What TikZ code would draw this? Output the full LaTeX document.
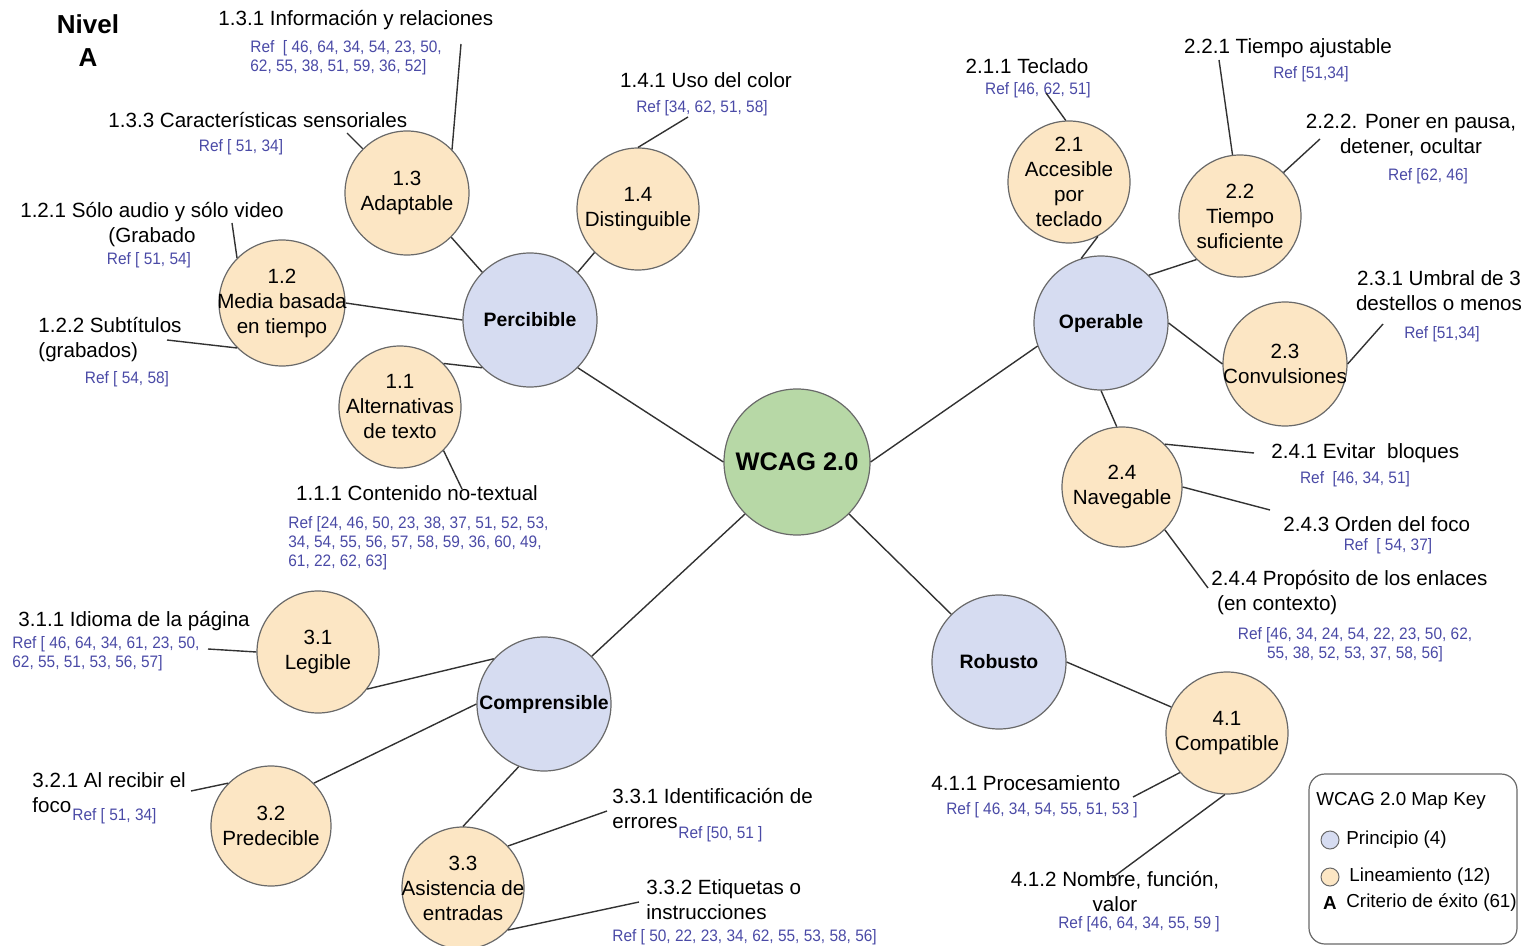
\documentclass[tikz,border=0pt]{standalone}
\usepackage{fontspec}
\setmainfont{Liberation Sans}
\newfontfamily\reffamily[FakeStretch=0.93]{Liberation Sans}
\definecolor{princfill}{RGB}{214,220,241}
\definecolor{guidefill}{RGB}{252,230,196}
\definecolor{rootfill}{RGB}{183,216,166}
\definecolor{edgec}{RGB}{105,105,105}
\definecolor{linec}{RGB}{50,50,50}
\definecolor{refblue}{RGB}{74,74,166}
\newcommand\critfont{\fontsize{10.3}{12.5}\selectfont}
\newcommand\refsfont{\reffamily\fontsize{8.3}{9.5}\selectfont}
\newcommand\keyfont{\fontsize{9.4}{11}\selectfont}
\begin{document}
\begin{tikzpicture}[x=0.5pt,y=-0.5pt,
  root/.style={circle,draw=edgec,fill=rootfill,line width=0.6pt,minimum size=73pt,inner sep=0pt},
  princ/.style={circle,draw=edgec,fill=princfill,line width=0.6pt,minimum size=67pt,inner sep=0pt},
  guide/.style={circle,draw=edgec,fill=guidefill,line width=0.6pt,minimum size=61pt,inner sep=0pt},
  ctext/.style={font=\critfont,align=center,inner sep=0pt},
  ptext/.style={font=\fontsize{9.7}{11}\selectfont\bfseries,inner sep=0pt},
  crit/.style={font=\critfont,inner sep=0pt},
  refs/.style={font=\refsfont,text=refblue,inner sep=0pt},
  link/.style={draw=linec,line width=0.7pt},
  keytext/.style={font=\keyfont,inner sep=0pt,anchor=west},
  keydot/.style={circle,draw=edgec,line width=0.5pt,minimum size=9pt,inner sep=0pt}
]
\useasboundingbox (0,0) rectangle (1530,946);

% level heading
\node[font=\fontsize{13}{16.5}\selectfont\bfseries,align=center,inner sep=0pt] (nivel) at (88,41) {Nivel\\A};

% centre and principles
\node[root,label={[font=\fontsize{12.7}{14}\selectfont\bfseries]center:WCAG 2.0}] (wcag) at (797,462) {};
\node[princ,label={[ptext]center:Percibible}] (perc) at (530,320) {};
\node[princ,label={[ptext]center:Operable}] (oper) at (1101,323) {};
\node[princ,label={[ptext]center:Comprensible}] (comp) at (544,704) {};
\node[princ,label={[ptext]center:Robusto}] (robu) at (999,662) {};

% guidelines
\node[guide,minimum size=62pt,label={[ctext]center:{1.3\\Adaptable}}] (g13) at (407,193) {};
\node[guide,label={[ctext]center:{1.4\\Distinguible}}] (g14) at (638,209) {};
\node[guide,minimum size=63pt,label={[ctext]center:{1.2\\Media basada\\en tiempo}}] (g12) at (282,303) {};
\node[guide,label={[ctext]center:{1.1\\Alternativas\\de texto}}] (g11) at (400,407) {};
\node[guide,label={[ctext]center:{2.1\\Accesible\\por\\teclado}}] (g21) at (1069,182) {};
\node[guide,label={[ctext]center:{2.2\\Tiempo\\suficiente}}] (g22) at (1240,216) {};
\node[guide,minimum size=62pt,label={[ctext]center:{2.3\\Convulsiones}}] (g23) at (1285,364) {};
\node[guide,minimum size=60pt,label={[ctext]center:{2.4\\Navegable}}] (g24) at (1122,487) {};
\node[guide,label={[ctext]center:{3.1\\Legible}}] (g31) at (318,652) {};
\node[guide,minimum size=60pt,label={[ctext]center:{3.2\\Predecible}}] (g32) at (271,826) {};
\node[guide,label={[ctext]center:{3.3\\Asistencia de\\entradas}}] (g33) at (463,888) {};
\node[guide,label={[ctext]center:{4.1\\Compatible}}] (g41) at (1227,733) {};

% success criteria and their references
\node[crit,anchor=west] (c131) at (218,20) {1.3.1 Información y relaciones};
\node[refs,anchor=west,align=left] (r131) at (250,57.5) {Ref\ \ [ 46, 64, 34, 54, 23, 50,\\62, 55, 38, 51, 59, 36, 52]};
\node[crit,anchor=west] (c133) at (108,120) {1.3.3 Características sensoriales};
\node[refs] (r133) at (241,147) {Ref [ 51, 34]};
\node[crit,align=center] (c121) at (152,224.5) {1.2.1 Sólo audio y sólo video\\(Grabado};
\node[refs] (r121) at (149,260) {Ref [ 51, 54]};
\node[crit,anchor=west,align=left] (c122) at (38,339.5) {1.2.2 Subtítulos\\(grabados)};
\node[refs] (r122) at (127,379) {Ref [ 54, 58]};
\node[crit] (c111) at (417,493) {1.1.1 Contenido no-textual};
\node[refs,anchor=west,align=left] (r111) at (288,543) {Ref [24, 46, 50, 23, 38, 37, 51, 52, 53,\\34, 54, 55, 56, 57, 58, 59, 36, 60, 49,\\61, 22, 62, 63]};
\node[crit] (c141) at (706,80) {1.4.1 Uso del color};
\node[refs] (r141) at (702,108) {Ref [34, 62, 51, 58]};

\node[crit] (c211) at (1027,66) {2.1.1 Teclado};
\node[refs] (r211) at (1038,90) {Ref [46, 62, 51]};
\node[crit] (c221) at (1288,48) {2.2.1 Tiempo ajustable};
\node[refs] (r221) at (1311,74) {Ref [51,34]};
\node[crit,align=center] (c222) at (1411,135) {2.2.2. Poner en pausa,\\detener, ocultar};
\node[refs] (r222) at (1428,176) {Ref [62, 46]};
\node[crit,align=center] (c231) at (1439,290.5) {2.3.1 Umbral de 3\\destellos o menos};
\node[refs] (r231) at (1442,334) {Ref [51,34]};
\node[crit,anchor=west] (c241) at (1271,453) {2.4.1 Evitar\ \ bloques};
\node[refs] (r241) at (1355,479) {Ref\ \ [46, 34, 51]};
\node[crit,anchor=west] (c243) at (1283,524) {2.4.3 Orden del foco};
\node[refs] (r243) at (1388,546) {Ref\ \ [ 54, 37]};
\node[crit,anchor=west,align=left] (c244) at (1211,592.5) {2.4.4 Propósito de los enlaces\\\ (en contexto)};
\node[refs,align=center] (r244) at (1355,644.5) {Ref [46, 34, 24, 54, 22, 23, 50, 62,\\55, 38, 52, 53, 37, 58, 56]};

\node[crit,anchor=west] (c311) at (18,621) {3.1.1 Idioma de la página};
\node[refs,anchor=west,align=left] (r311) at (12,654) {Ref [ 46, 64, 34, 61, 23, 50,\\62, 55, 51, 53, 56, 57]};
\node[crit,anchor=west,align=left] (c321) at (32,792.5) {3.2.1 Al recibir el\\foco};
\node[refs,anchor=west] (r321) at (72,816) {Ref [ 51, 34]};
\node[crit,anchor=west,align=left] (c331) at (612,808.5) {3.3.1 Identificación de\\errores};
\node[refs,anchor=west] (r331) at (678,834) {Ref [50, 51 ]};
\node[crit,anchor=west,align=left] (c332) at (646,899.5) {3.3.2 Etiquetas o\\instrucciones};
\node[refs,anchor=west] (r332) at (612,937) {Ref [ 50, 22, 23, 34, 62, 55, 53, 58, 56]};

\node[crit,anchor=west] (c411) at (931,783) {4.1.1 Procesamiento};
\node[refs] (r411) at (1042,810) {Ref [ 46, 34, 54, 55, 51, 53 ]};
\node[crit,align=center] (c412) at (1115,891.5) {4.1.2 Nombre, función,\\valor};
\node[refs] (r412) at (1139,924) {Ref [46, 64, 34, 55, 59 ]};

% free ends of the criterion leaders
\coordinate (e131) at (461,44);
\coordinate (e133) at (347,133);
\coordinate (e121) at (232,223);
\coordinate (e122) at (167,340);
\coordinate (e111) at (462,489);
\coordinate (e141) at (688,117);
\coordinate (e211) at (1046,93);
\coordinate (e221) at (1219,60);
\coordinate (e222) at (1320,139);
\coordinate (e231) at (1383,324);
\coordinate (e241) at (1254,453);
\coordinate (e243) at (1270,510);
\coordinate (e244) at (1208,588);
\coordinate (e311) at (208,649);
\coordinate (e321) at (191,791);
\coordinate (e331) at (607,811);
\coordinate (e332) at (639,902);
\coordinate (e411) at (1133,797);
\coordinate (e412) at (1112,878);

% principle links
\draw[link] (wcag.180) -- (perc.-45);
\draw[link] (wcag.0) -- (oper.-160);
\draw[link] (wcag.-135) -- (comp.45);
\draw[link] (wcag.-45) -- (robu.135);

% guideline links
\draw[link] (perc.135) -- (g13.-45);
\draw[link] (perc.45) -- (g14.-135);
\draw[link] (perc.180) -- (g12.0);
\draw[link] (perc.-135) -- (g11.45);
\draw[link] (oper.107) -- (g21.-62);
\draw[link] (oper.45) -- (g22.-135);
\draw[link] (oper.0) -- (g23.180);
\draw[link] (oper.-90) -- (g24.95);
\draw[link] (comp.138) -- (g31.-37);
\draw[link] (comp.180) -- (g32.45);
\draw[link] (comp.-112) -- (g33.90);
\draw[link] (robu.0) -- (g41.155);

% criterion leaders
\draw[link] (e131) -- (g13.44);
\draw[link] (e133) -- (g13.135);
\draw[link] (e121) -- (g12.135);
\draw[link] (e122) -- (g12.-135);
\draw[link] (g11.-45) -- (e111);
\draw[link] (g14.90) -- (e141);
\draw[link] (e211) -- (g21.93);
\draw[link] (e221) -- (g22.97);
\draw[link] (e222) -- (g22.45);
\draw[link] (e231) -- (g23.0);
\draw[link] (g24.45) -- (e241);
\draw[link] (g24.0) -- (e243);
\draw[link] (g24.-45) -- (e244);
\draw[link] (e311) -- (g31.180);
\draw[link] (e321) -- (g32.135);
\draw[link] (g33.43) -- (e331);
\draw[link] (g33.-43) -- (e332);
\draw[link] (e411) -- (g41.-140);
\draw[link] (g41.-92) -- (e412);

% key
\node[draw=edgec,line width=0.6pt,rounded corners=8pt,minimum width=104pt,minimum height=85pt,inner sep=0pt] (key) at (1413,859) {};
\node[keytext] (keyt) at (1316,801) {WCAG 2.0 Map Key};
\node[keydot,fill=princfill] (kp) at (1330,840) {};
\node[keytext] (kpt) at (1346,840) {Principio (4)};
\node[keydot,fill=guidefill] (kg) at (1330,877) {};
\node[keytext] (kgt) at (1349,877) {Lineamiento (12)};
\node[font=\keyfont\bfseries,inner sep=0pt] (ka) at (1330,903) {A};
\node[keytext] (kat) at (1346,903) {Criterio de éxito (61)};
\end{tikzpicture}
\end{document}
